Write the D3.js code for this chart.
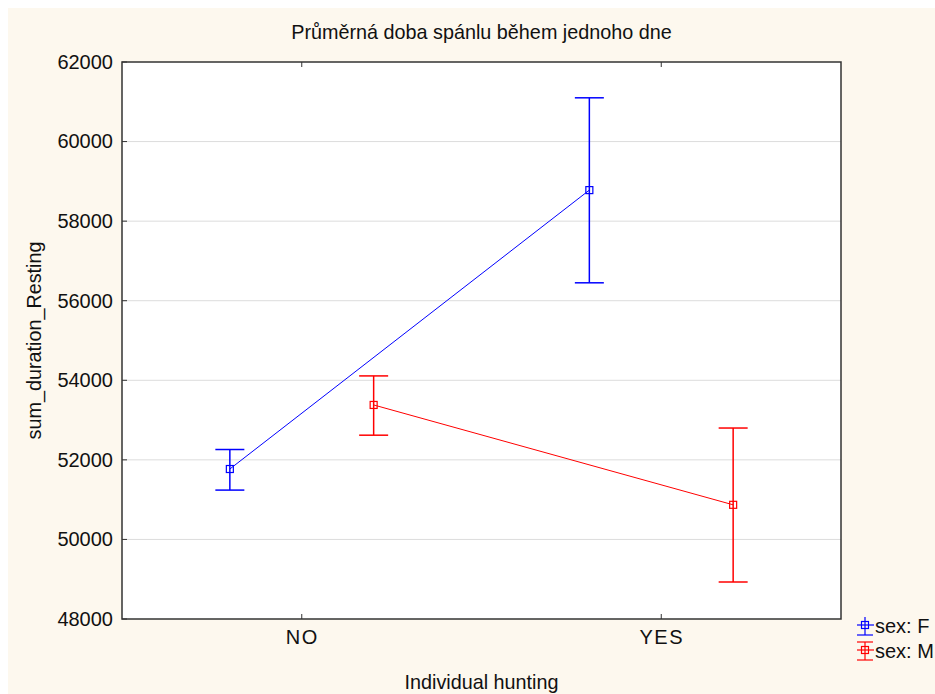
<!DOCTYPE html>
<html><head><meta charset="utf-8">
<script src="https://cdn.jsdelivr.net/npm/d3@7"></script>
<style>body{margin:0;background:#fff}svg{display:block}text{font-family:Arial,"Liberation Sans",sans-serif;fill:#111}</style>
</head><body><svg id="c" width="935" height="694"></svg>
<script>
const categories = ["NO", "YES"];
const seriesNames = ["sex: F", "sex: M"];
const meansF = [51770, 58780];
const lowerF = [51240, 56450];
const upperF = [52260, 61100];
const meansM = [53380, 50870];
const lowerM = [52620, 48930];
const upperM = [54110, 52800];
const yTicks = [48000, 50000, 52000, 54000, 56000, 58000, 60000, 62000];
const colors = ["#0000ff", "#ff0000"];

const series = [
  {name: seriesNames[0], mean: meansF, lo: lowerF, hi: upperF, color: colors[0], off: -0.2},
  {name: seriesNames[1], mean: meansM, lo: lowerM, hi: upperM, color: colors[1], off: 0.2}
];

const svg = d3.select("#c");
const W = 935, H = 694;
const m = {l: 122, t: 62, r: 841, b: 619};
svg.append("rect").attr("x", 8).attr("y", 8).attr("width", W - 8).attr("height", H - 8).attr("fill", "#fdf8ee");
svg.append("rect").attr("x", m.l).attr("y", m.t).attr("width", m.r - m.l).attr("height", m.b - m.t).attr("fill", "#fff");

const x = d3.scalePoint().domain(categories).range([m.l, m.r]).padding(0.5);
const step = x.step();
const y = d3.scaleLinear().domain([48000, 62000]).range([m.b, m.t]);

// grid
svg.append("g").selectAll("line").data(yTicks.slice(1, -1)).join("line")
  .attr("x1", m.l).attr("x2", m.r).attr("y1", d => y(d)).attr("y2", d => y(d))
  .attr("stroke", "#dcdcdc").attr("stroke-width", 1);

// axes
const yAxis = d3.axisLeft(y).tickValues(yTicks).tickSize(0).tickPadding(9).tickFormat(d3.format("d"));
const gy = svg.append("g").attr("transform", `translate(${m.l},0)`).call(yAxis);
gy.select(".domain").remove();
gy.selectAll("text").attr("font-size", 20).style("font-family", "Arial, 'Liberation Sans', sans-serif").attr("fill", "#111");
svg.append("g").selectAll("line").data(yTicks).join("line")
  .attr("x1", m.l).attr("x2", m.l + 5).attr("y1", d => y(d)).attr("y2", d => y(d)).attr("stroke", "#333");

const xAxis = d3.axisBottom(x).tickSize(0).tickPadding(11);
const gx = svg.append("g").attr("transform", `translate(0,${m.b})`).call(xAxis);
gx.select(".domain").remove();
gx.selectAll("text").attr("font-size", 20).attr("letter-spacing", "1.5px").style("font-family", "Arial, 'Liberation Sans', sans-serif").attr("fill", "#111");
svg.append("g").selectAll("line").data(categories).join("line")
  .attr("x1", d => x(d)).attr("x2", d => x(d)).attr("y1", m.b).attr("y2", m.b - 5).attr("stroke", "#333");
svg.append("g").selectAll("line").data(categories).join("line")
  .attr("x1", d => x(d)).attr("x2", d => x(d)).attr("y1", m.t).attr("y2", m.t + 5).attr("stroke", "#333");

// series
const sx = (s, i) => x(categories[i]) + s.off * step;
series.forEach(s => {
  const g = svg.append("g");
  const pts = categories.map((c, i) => [sx(s, i), y(s.mean[i])]);
  g.append("path").attr("d", d3.line()(pts)).attr("fill", "none").attr("stroke", s.color).attr("stroke-width", 1);
  categories.forEach((c, i) => {
    const cx = sx(s, i);
    g.append("line").attr("x1", cx).attr("x2", cx).attr("y1", y(s.lo[i])).attr("y2", y(s.hi[i])).attr("stroke", s.color).attr("stroke-width", 1.5);
    [s.lo[i], s.hi[i]].forEach(v => g.append("line").attr("x1", cx - 14.5).attr("x2", cx + 14.5).attr("y1", y(v)).attr("y2", y(v)).attr("stroke", s.color).attr("stroke-width", 1.5));
    g.append("rect").attr("x", cx - 3.5).attr("y", y(s.mean[i]) - 3.5).attr("width", 7).attr("height", 7).attr("fill", "none").attr("stroke", s.color).attr("stroke-width", 1.2);
  });
});

// plot border
svg.append("rect").attr("x", m.l).attr("y", m.t).attr("width", m.r - m.l).attr("height", m.b - m.t).attr("fill", "none").attr("stroke", "#333").attr("stroke-width", 1.5);

// titles
svg.append("text").attr("x", (m.l + m.r) / 2).attr("y", 39).attr("text-anchor", "middle").attr("font-size", 19.8).text("Průměrná doba spánlu během jednoho dne");
svg.append("text").attr("x", (m.l + m.r) / 2).attr("y", 689).attr("text-anchor", "middle").attr("font-size", 19.8).text("Individual hunting");
svg.append("text").attr("transform", `translate(41,${(m.t + m.b) / 2}) rotate(-90)`).attr("text-anchor", "middle").attr("font-size", 19.8).text("sum_duration_Resting");

// legend
series.forEach((s, i) => {
  const ly = 625 + i * 25;
  const g = svg.append("g").attr("stroke", s.color).attr("stroke-width", 1.2);
  const cx = 865;
  g.append("line").attr("x1", cx).attr("x2", cx).attr("y1", ly - 8).attr("y2", ly + 10);
  if (i === 1) g.append("line").attr("x1", cx - 8).attr("x2", cx + 8).attr("y1", ly - 8).attr("y2", ly - 8);
  g.append("line").attr("x1", cx - 8).attr("x2", cx + 8).attr("y1", ly + 10).attr("y2", ly + 10);
  g.append("line").attr("x1", cx - 8).attr("x2", cx + 9).attr("y1", ly).attr("y2", ly);
  g.append("rect").attr("x", cx - 3.5).attr("y", ly - 3.5).attr("width", 7).attr("height", 7).attr("fill", "none");
  svg.append("text").attr("x", 875).attr("y", ly + 8).attr("font-size", 20).text(s.name);
});
</script></body></html>
